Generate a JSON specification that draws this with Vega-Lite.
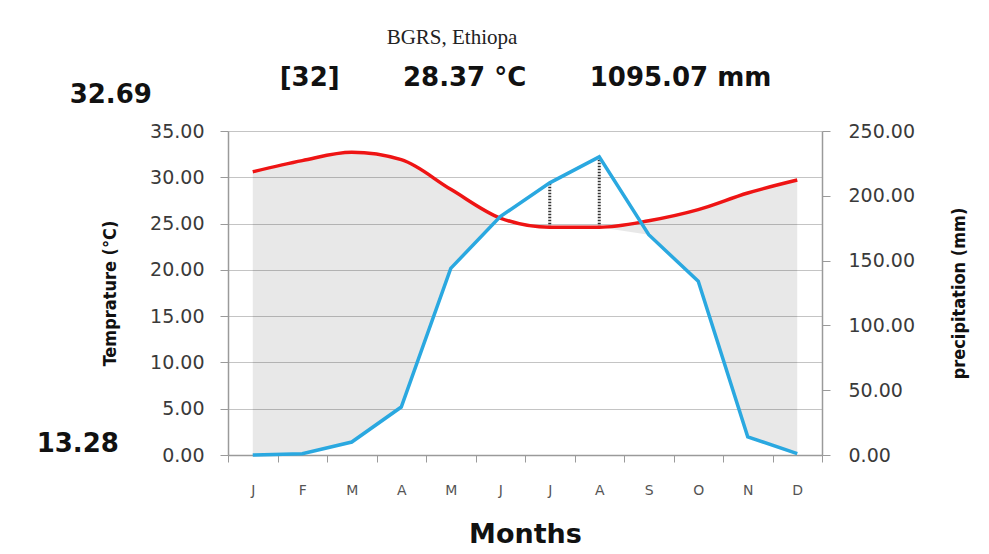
{
  "$schema": "https://vega.github.io/schema/vega-lite/v6.json",
  "width": 594,
  "height": 324,
  "autosize": {"type": "none"},
  "padding": {"left": 228, "top": 131, "right": 167, "bottom": 99},
  "background": "white",
  "title": {
    "text": "BGRS, Ethiopa",
    "font": "Liberation Serif",
    "fontSize": 21,
    "fontWeight": "normal",
    "color": "#222222",
    "anchor": "middle",
    "dx": -73,
    "offset": 16
  },
  "data": {
    "values": [
      {"month": "Jan", "temp": 30.6, "precip": 0},
      {"month": "Feb", "temp": 31.8, "precip": 1},
      {"month": "Mar", "temp": 32.7, "precip": 10},
      {"month": "Apr", "temp": 31.9, "precip": 37},
      {"month": "May", "temp": 28.7, "precip": 144},
      {"month": "Jun", "temp": 25.6, "precip": 184},
      {"month": "Jul", "temp": 24.6, "precip": 210},
      {"month": "Aug", "temp": 24.6, "precip": 230},
      {"month": "Sep", "temp": 25.3, "precip": 170},
      {"month": "Oct", "temp": 26.5, "precip": 134},
      {"month": "Nov", "temp": 28.3, "precip": 14},
      {"month": "Dec", "temp": 29.7, "precip": 1}
    ]
  },
  "transform": [
    {"calculate": "datum.precip * 35 / 250", "as": "p_t"},
    {"calculate": "min(datum.p_t, datum.temp)", "as": "lo"},
    {"calculate": "max(datum.p_t, datum.temp)", "as": "hi"}
  ],
  "layer": [
    {
      "encoding": {
        "x": {
          "field": "month",
          "type": "ordinal",
          "sort": null,
          "bandPosition": 0.5,
          "scale": {"type": "band", "paddingInner": 0, "paddingOuter": 0},
          "axis": {
            "orient": "bottom",
            "title": "Months",
            "titleFont": "DejaVu Sans",
            "titleFontSize": 27,
            "titleFontWeight": "bold",
            "titleColor": "#111111",
            "titlePadding": 24,
            "labelExpr": "substring(datum.label, 0, 1)",
            "labelFont": "DejaVu Sans",
            "labelFontSize": 14,
            "labelColor": "#555555",
            "labelAngle": 0,
            "labelPadding": 21,
            "tickBand": "extent",
            "tickSize": 7,
            "tickColor": "#9a9a9a",
            "domainColor": "#9a9a9a",
            "domainWidth": 1.5,
            "grid": false
          }
        },
        "y": {
          "field": "temp",
          "type": "quantitative",
          "scale": {"domain": [0, 35], "nice": false, "zero": true},
          "axis": {
            "orient": "left",
            "title": "Temprature (°C)",
            "titleFont": "DejaVu Sans Condensed, Liberation Sans Narrow, Liberation Sans",
            "titleFontSize": 18,
            "titleFontWeight": "bold",
            "titleColor": "#111111",
            "titlePadding": 30,
            "values": [0, 5, 10, 15, 20, 25, 30, 35],
            "format": ".2f",
            "labelFont": "DejaVu Sans",
            "labelFontSize": 19,
            "labelColor": "#3a3a3a",
            "labelPadding": 16,
            "tickSize": 8,
            "tickColor": "#9a9a9a",
            "domainColor": "#9a9a9a",
            "domainWidth": 1.5,
            "grid": true,
            "gridColor": "#c4c4c4",
            "gridWidth": 1.2
          }
        }
      },
      "layer": [
        {
          "mark": {"type": "area", "interpolate": "linear", "fill": "#000000", "fillOpacity": 0.09},
          "encoding": {"y2": {"field": "lo"}}
        },
        {
          "mark": {"type": "rule", "strokeDash": [1.5, 1.5], "strokeWidth": 3, "color": "#333333"},
          "encoding": {"y2": {"field": "hi"}}
        },
        {
          "mark": {"type": "line", "interpolate": "monotone", "color": "#ee1414", "strokeWidth": 3.5},
          "encoding": {}
        },
        {
          "data": {
            "values": [
              {"label": "32.69", "pos": 38.9},
              {"label": "13.28", "pos": 1.2}
            ]
          },
          "transform": [{"filter": "datum.label == '32.69'"}],
          "mark": {"type": "text", "font": "DejaVu Sans", "fontSize": 26, "fontWeight": "bold", "color": "#111111", "align": "center", "baseline": "middle", "dx": -142},
          "encoding": {
            "x": {"datum": "Jan"},
            "y": {"field": "pos", "type": "quantitative"},
            "text": {"field": "label"}
          }
        },
        {
          "data": {
            "values": [
              {"label": "32.69", "pos": 38.9},
              {"label": "13.28", "pos": 1.2}
            ]
          },
          "transform": [{"filter": "datum.label == '13.28'"}],
          "mark": {"type": "text", "font": "DejaVu Sans", "fontSize": 26, "fontWeight": "bold", "color": "#111111", "align": "center", "baseline": "middle", "dx": -175},
          "encoding": {
            "x": {"datum": "Jan"},
            "y": {"field": "pos", "type": "quantitative"},
            "text": {"field": "label"}
          }
        }
      ]
    },
    {
      "mark": {"type": "line", "color": "#2aa8e0", "strokeWidth": 3.5},
      "encoding": {
        "x": {
          "field": "month",
          "type": "ordinal",
          "sort": null,
          "bandPosition": 0.5,
          "axis": {
            "orient": "top",
            "title": "[32]\u00a0\u00a0\u00a0\u00a0\u00a0\u00a0\u00a028.37 °C\u00a0\u00a0\u00a0\u00a0\u00a0\u00a0\u00a01095.07 mm",
            "titleFont": "DejaVu Sans",
            "titleFontSize": 26,
            "titleFontWeight": "bold",
            "titleColor": "#111111",
            "titlePadding": 41,
            "labels": false,
            "ticks": false,
            "domain": false,
            "grid": false
          }
        },
        "y": {
          "field": "precip",
          "type": "quantitative",
          "scale": {"domain": [0, 250], "nice": false, "zero": true},
          "axis": {
            "orient": "right",
            "title": "precipitation (mm)",
            "titleFont": "DejaVu Sans Condensed, Liberation Sans Narrow, Liberation Sans",
            "titleFontSize": 18,
            "titleFontWeight": "bold",
            "titleColor": "#111111",
            "titleAngle": 270,
            "titleBaseline": "top",
            "titlePadding": 36,
            "values": [0, 50, 100, 150, 200, 250],
            "format": ".2f",
            "labelFont": "DejaVu Sans",
            "labelFontSize": 19,
            "labelColor": "#3a3a3a",
            "labelPadding": 18,
            "tickSize": 8,
            "tickColor": "#9a9a9a",
            "domainColor": "#9a9a9a",
            "domainWidth": 1.5,
            "grid": false
          }
        }
      }
    }
  ],
  "resolve": {"scale": {"y": "independent"}, "axis": {"x": "independent"}},
  "config": {"view": {"stroke": null}}
}
